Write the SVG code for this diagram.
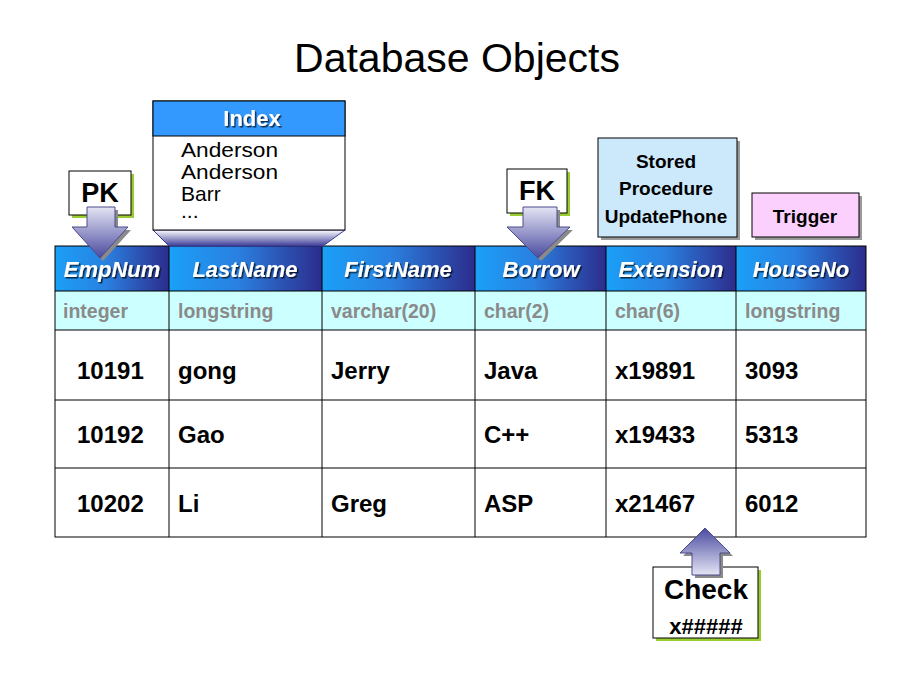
<svg xmlns="http://www.w3.org/2000/svg" width="920" height="690" viewBox="0 0 920 690">
<style>
  .title{font-family:"Liberation Sans",Arial,sans-serif;font-size:41px;fill:#000}
  .hdr{font-family:"Liberation Sans",Arial,sans-serif;font-size:22px;font-weight:bold;font-style:italic;fill:#fff;text-anchor:middle;filter:url(#tsh)}
  .typ{font-family:"Liberation Sans",Arial,sans-serif;font-size:19.5px;font-weight:bold;fill:#8a8a8a}
  .dat{font-family:"Liberation Sans",Arial,sans-serif;font-size:24px;font-weight:bold;fill:#000}
  .lbl{font-family:"Liberation Sans",Arial,sans-serif;font-weight:bold;fill:#000;text-anchor:middle}
  .idx{font-family:"Liberation Sans",Arial,sans-serif;font-size:21px;fill:#000}
  .grid{stroke:#000;stroke-width:1;fill:none}
  .arrow{fill:url(#arrowGrad);stroke:#4a4a8a;stroke-width:1}
</style>
<defs>
  <filter id="tsh" x="-10%" y="-20%" width="130%" height="150%">
    <feDropShadow dx="1.5" dy="1.5" stdDeviation="0.6" flood-color="#000" flood-opacity="0.7"/>
  </filter>
  <linearGradient id="hdrGrad" x1="0" y1="0" x2="1" y2="0">
    <stop offset="0" stop-color="#1aa0f8"/>
    <stop offset="0.45" stop-color="#2a80e0"/>
    <stop offset="1" stop-color="#2c2c8c"/>
  </linearGradient>
  <linearGradient id="arrowGrad" x1="0" y1="0" x2="0" y2="1">
    <stop offset="0" stop-color="#e4e4f4"/>
    <stop offset="1" stop-color="#4a4aa0"/>
  </linearGradient>
  <linearGradient id="arrowGradUp" x1="0" y1="1" x2="0" y2="0">
    <stop offset="0" stop-color="#e4e4f4"/>
    <stop offset="1" stop-color="#4a4aa0"/>
  </linearGradient>
  <linearGradient id="trapGrad" x1="0" y1="0" x2="0" y2="1">
    <stop offset="0" stop-color="#ffffff"/>
    <stop offset="1" stop-color="#3c3c98"/>
  </linearGradient>
</defs>

<rect width="920" height="690" fill="#fff"/>

<text class="title" x="457" y="72" text-anchor="middle">Database Objects</text>

<g id="table">
  <g id="header">
    <rect x="55" y="246" width="114" height="45" fill="url(#hdrGrad)"/>
    <rect x="169" y="246" width="153" height="45" fill="url(#hdrGrad)"/>
    <rect x="322" y="246" width="153" height="45" fill="url(#hdrGrad)"/>
    <rect x="475" y="246" width="131" height="45" fill="url(#hdrGrad)"/>
    <rect x="606" y="246" width="130" height="45" fill="url(#hdrGrad)"/>
    <rect x="736" y="246" width="130" height="45" fill="url(#hdrGrad)"/>
    <text class="hdr" x="112" y="277">EmpNum</text>
    <text class="hdr" x="245" y="277">LastName</text>
    <text class="hdr" x="398" y="277">FirstName</text>
    <text class="hdr" x="541" y="277">Borrow</text>
    <text class="hdr" x="671" y="277">Extension</text>
    <text class="hdr" x="801" y="277">HouseNo</text>
  </g>
  <g id="types">
    <rect x="55" y="291" width="811" height="39" fill="#ccffff"/>
    <text class="typ" x="63" y="318">integer</text>
    <text class="typ" x="178" y="318">longstring</text>
    <text class="typ" x="331" y="318">varchar(20)</text>
    <text class="typ" x="484" y="318">char(2)</text>
    <text class="typ" x="615" y="318">char(6)</text>
    <text class="typ" x="745" y="318">longstring</text>
  </g>
  <g id="rows">
    <text class="dat" x="77" y="379">10191</text>
    <text class="dat" x="178" y="379">gong</text>
    <text class="dat" x="331" y="379">Jerry</text>
    <text class="dat" x="484" y="379">Java</text>
    <text class="dat" x="615" y="379">x19891</text>
    <text class="dat" x="745" y="379">3093</text>
    <text class="dat" x="77" y="443">10192</text>
    <text class="dat" x="178" y="443">Gao</text>
    <text class="dat" x="484" y="443">C++</text>
    <text class="dat" x="615" y="443">x19433</text>
    <text class="dat" x="745" y="443">5313</text>
    <text class="dat" x="77" y="512">10202</text>
    <text class="dat" x="178" y="512">Li</text>
    <text class="dat" x="331" y="512">Greg</text>
    <text class="dat" x="484" y="512">ASP</text>
    <text class="dat" x="615" y="512">x21467</text>
    <text class="dat" x="745" y="512">6012</text>
  </g>
  <g id="grid" class="grid">
    <rect x="55" y="246" width="811" height="291"/>
    <line x1="55" y1="291" x2="866" y2="291"/>
    <line x1="55" y1="330" x2="866" y2="330"/>
    <line x1="55" y1="400" x2="866" y2="400"/>
    <line x1="55" y1="468" x2="866" y2="468"/>
    <line x1="169" y1="246" x2="169" y2="537"/>
    <line x1="322" y1="246" x2="322" y2="537"/>
    <line x1="475" y1="246" x2="475" y2="537"/>
    <line x1="606" y1="246" x2="606" y2="537"/>
    <line x1="736" y1="246" x2="736" y2="537"/>
  </g>
</g>

<g id="index">
  <polygon points="153,230 345,230 323,246 169,246" fill="url(#trapGrad)" stroke="#3c3c98" stroke-width="1"/>
  <rect x="153" y="101" width="192" height="129" fill="#fff" stroke="#000" stroke-width="1"/>
  <rect x="153" y="101" width="192" height="35" fill="#3399ff" stroke="#000" stroke-width="1"/>
  <text class="hdr" x="252" y="126" style="font-style:normal">Index</text>
  <text class="idx" x="181" y="157" textLength="97" lengthAdjust="spacingAndGlyphs">Anderson</text>
  <text class="idx" x="181" y="179" textLength="97" lengthAdjust="spacingAndGlyphs">Anderson</text>
  <text class="idx" x="181" y="201">Barr</text>
  <text class="idx" x="181" y="218">...</text>
</g>

<g id="pk">
  <rect x="72" y="174" width="62" height="44" fill="#9acd32"/>
  <rect x="69" y="171" width="62" height="44" fill="#fff" stroke="#000" stroke-width="1"/>
  <text class="lbl" x="100" y="202" font-size="27">PK</text>
</g>

<g id="fk">
  <rect x="510" y="172" width="60" height="44" fill="#9acd32"/>
  <rect x="507" y="169" width="60" height="44" fill="#fff" stroke="#000" stroke-width="1"/>
  <text class="lbl" x="537" y="200" font-size="27">FK</text>
</g>

<g id="stored-procedure">
  <rect x="601" y="141" width="139" height="99" fill="#9a9a9a"/>
  <rect x="598" y="138" width="139" height="99" fill="#cce9fc" stroke="#000" stroke-width="1"/>
  <text class="lbl" x="666" y="168" font-size="19">Stored</text>
  <text class="lbl" x="666" y="195" font-size="19">Procedure</text>
  <text class="lbl" x="666" y="223" font-size="19">UpdatePhone</text>
</g>

<g id="trigger">
  <rect x="755" y="196" width="107" height="44" fill="#9a9a9a"/>
  <rect x="752" y="193" width="107" height="44" fill="#fcd0fc" stroke="#000" stroke-width="1"/>
  <text class="lbl" x="805" y="223" font-size="19">Trigger</text>
</g>

<g id="check">
  <rect x="656" y="570" width="105" height="71" fill="#9acd32"/>
  <rect x="653" y="567" width="105" height="71" fill="#fff" stroke="#000" stroke-width="1"/>
  <text class="lbl" x="706" y="599" font-size="28">Check</text>
  <text class="lbl" x="706" y="634" font-size="22">x#####</text>
</g>

<g id="connectors">
  <polygon points="90,210 118,210 118,230 131,230 103,261 75,230 90,230" fill="#8a8a8a"/>
  <polygon class="arrow" points="87,207 115,207 115,227 128,227 100,258 72,227 87,227"/>
  <polygon points="526,210 560,210 560,230 573,230 541,261 510,230 526,230" fill="#8a8a8a"/>
  <polygon class="arrow" points="523,207 557,207 557,227 570,227 538,258 507,227 523,227"/>
  <polygon points="708,531 733,556 723,556 723,578 695,578 695,556 683,556" fill="#8a8a8a"/>
  <polygon points="705,528 730,553 720,553 720,575 692,575 692,553 680,553" fill="url(#arrowGradUp)" stroke="#4a4a8a" stroke-width="1"/>
</g>
</svg>
